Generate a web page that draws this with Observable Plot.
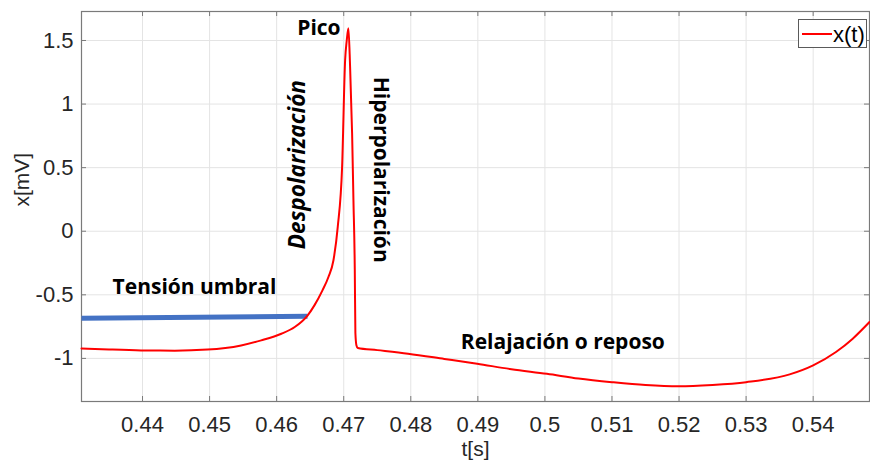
<!DOCTYPE html>
<html><head><meta charset="utf-8">
<script src="https://cdn.jsdelivr.net/npm/d3@7"></script>
<script src="https://cdn.jsdelivr.net/npm/@observablehq/plot@0.6"></script>
<style>
body{margin:0;background:#fff;}
#wrap{position:relative;width:870px;height:466px;overflow:hidden;}
#legend{position:absolute;left:798px;top:19px;width:69px;height:29px;border:1px solid #5a5a5a;background:#fff;box-sizing:border-box;}
</style></head>
<body><div id="wrap"></div>
<script>
// Signal x(t)
const time = [0.4309,0.4350,0.4398,0.4448,0.4497,0.4547,0.4577,0.4607,0.4627,0.4646,0.46563,0.46683,0.46772,0.46847,0.46911,0.46976,0.47021,0.47045,0.4707,0.47095,0.47125,0.47145,0.47165,0.47174,0.4719,0.4721,0.4750,0.4796,0.4850,0.4899,0.4950,0.5003,0.5050,0.5100,0.5150,0.5200,0.5250,0.5300,0.5365,0.5400,0.5434,0.5459,0.5484];
const volt = [-0.922,-0.930,-0.937,-0.939,-0.931,-0.898,-0.858,-0.806,-0.753,-0.663,-0.583,-0.465,-0.360,-0.228,0.034,0.506,1.346,1.500,1.596,1.294,0.770,0.244,-0.300,-0.800,-0.898,-0.918,-0.935,-0.963,-1.004,-1.042,-1.085,-1.121,-1.158,-1.187,-1.210,-1.220,-1.209,-1.187,-1.126,-1.055,-0.950,-0.845,-0.714];
// Threshold line (Tensión umbral)
const thresholdTime = [0.4309, 0.4646];
const thresholdVolt = [-0.685, -0.668];
// Axes
const xDomain = [0.4309, 0.5484];
const yDomain = [-1.339, 1.728];
const xTicks = [0.44,0.45,0.46,0.47,0.48,0.49,0.50,0.51,0.52,0.53,0.54];
const xTickLabels = ["0.44","0.45","0.46","0.47","0.48","0.49","0.5","0.51","0.52","0.53","0.54"];
const yTicks = [-1,-0.5,0,0.5,1,1.5];
const yTickLabels = ["-1","-0.5","0","0.5","1","1.5"];
// Annotations
const annLabels = ["Tensión umbral","Relajación o reposo","Pico","Despolarización","Hiperpolarización"];
const annTime = [0.44775,0.50267,0.46630,0.46319,0.47553];
const annVolt = [-0.438,-0.876,1.596,0.524,0.484];
const annRotate = [0,0,0,-90,90];
const annItalic = [false,false,false,true,false];

const W = 870, H = 466, mL = 81, mR = 1, mT = 11, mB = 65;
const fW = W - mL - mR, fH = H - mT - mB;

const signal = time.map((t, i) => ({t, v: volt[i]}));
const threshold = thresholdTime.map((t, i) => ({t, v: thresholdVolt[i]}));
const ann = annLabels.map((label, i) => ({label, t: annTime[i], v: annVolt[i], r: annRotate[i], it: annItalic[i]}));
const axisColor = "#7a7a7a";
const gridColor = "#e4e4e4";
const tickFont = "'Liberation Sans', Arial, Helvetica, sans-serif";
const annFont = "'Open Sans', sans-serif";

const chart = Plot.plot({
  width: W, height: H,
  marginLeft: mL, marginRight: mR, marginTop: mT, marginBottom: mB,
  style: {fontFamily: tickFont, fontSize: "22px", color: "#262626", background: "#fff"},
  x: {domain: xDomain, ticks: xTicks, tickSize: 0, tickPadding: 15, label: null,
      tickFormat: d => xTickLabels[xTicks.indexOf(d)]},
  y: {domain: yDomain, ticks: yTicks, tickSize: 0, tickPadding: 8, label: null,
      tickFormat: d => yTickLabels[yTicks.indexOf(d)]},
  marks: [
    Plot.ruleX(xTicks, {x: d => d, stroke: gridColor, strokeWidth: 1}),
    Plot.ruleY(yTicks, {y: d => d, stroke: gridColor, strokeWidth: 1}),
    Plot.tickX(xTicks, {x: d => d, stroke: axisColor, insetTop: fH - 5}),
    Plot.tickX(xTicks, {x: d => d, stroke: axisColor, insetBottom: fH - 5}),
    Plot.tickY(yTicks, {y: d => d, stroke: axisColor, insetRight: fW - 5}),
    Plot.tickY(yTicks, {y: d => d, stroke: axisColor, insetLeft: fW - 5}),
    Plot.frame({stroke: axisColor, strokeWidth: 1.2}),
    Plot.line(threshold, {x: "t", y: "v", stroke: "#4472C4", strokeWidth: 5, strokeLinecap: "butt"}),
    Plot.line(signal, {x: "t", y: "v", stroke: "#ff0000", strokeWidth: 2, curve: "monotone-x"}),
    Plot.text(ann.filter(d => !d.it), {x: "t", y: "v", text: "label", rotate: "r", fontFamily: annFont, fontWeight: "bold", fontSize: 21, fill: "#000"}),
    Plot.text(ann.filter(d => d.it), {x: "t", y: "v", text: "label", rotate: "r", fontFamily: annFont, fontWeight: "bold", fontStyle: "italic", fontSize: 22.5, fill: "#000"}),
    Plot.text(["x[mV]"], {frameAnchor: "left", dx: -59, rotate: -90, fontSize: 21, fill: "#262626"}),
    Plot.text(["t[s]"], {frameAnchor: "bottom", dy: 54, fontSize: 21, fill: "#262626"})
  ]
});
const wrap = document.getElementById("wrap");
wrap.appendChild(chart);

const legend = document.createElement("div");
legend.id = "legend";
legend.innerHTML = `<svg width="67" height="27" style="display:block">
  <line x1="3" x2="33" y1="14" y2="14" stroke="#ff0000" stroke-width="2"/>
  <text x="34" y="21.5" font-family="${tickFont}" font-size="22" fill="#000">x(t)</text></svg>`;
wrap.appendChild(legend);
</script>
</body></html>
